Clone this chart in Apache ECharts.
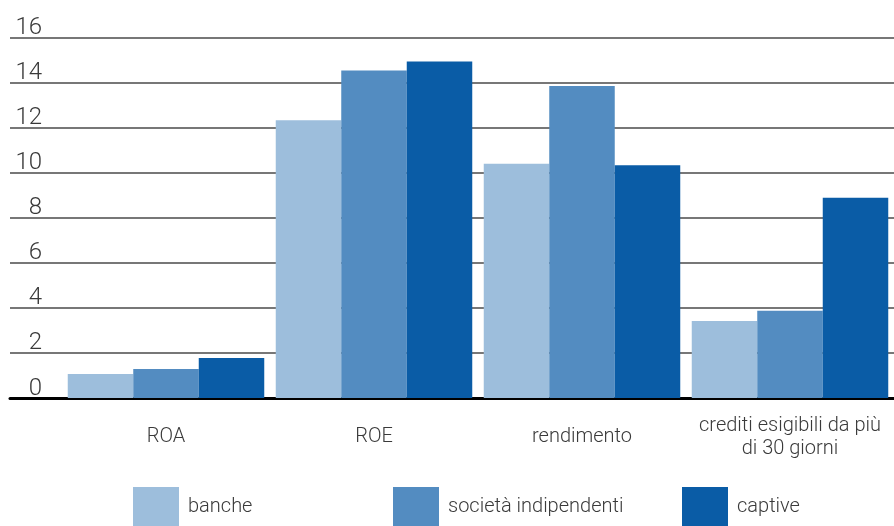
<!DOCTYPE html>
<html>
<head>
<meta charset="utf-8">
<script src="https://cdn.jsdelivr.net/npm/echarts@6/dist/echarts.min.js"></script>
<style>
  html, body { margin: 0; padding: 0; background: #fff; }
  #chart { width: 894px; height: 526px; }
</style>
</head>
<body>
<div id="chart"></div>
<script>
const categories = ['ROA', 'ROE', 'rendimento', 'crediti esigibili da più\ndi 30 giorni'];
const seriesNames = ['banche', 'società indipendenti', 'captive'];
const banche = [1.07, 12.33, 10.4, 3.42];
const societa = [1.29, 14.53, 13.85, 3.87];
const captive = [1.78, 14.93, 10.33, 8.89];
const yTicks = [0, 2, 4, 6, 8, 10, 12, 14, 16];

const colors = ['#9DBEDC', '#538CC1', '#0A5CA6'];
const FONT = 'Roboto, "Liberation Sans", sans-serif';
const TXT = '#3a3a3a';

const chart = echarts.init(document.getElementById('chart'), null, { renderer: 'canvas' });

function legendFor(i, left) {
  return {
    data: [seriesNames[i]],
    left: left, top: 487,
    padding: 0,
    itemWidth: 46, itemHeight: 40,
    icon: 'rect',
    selectedMode: false,
    textStyle: { fontSize: 20, fontFamily: FONT, fontWeight: 300, color: TXT, padding: [0, 0, 0, 4] }
  };
}

const dataArr = [banche, societa, captive];

chart.setOption({
  animation: false,
  backgroundColor: '#fff',
  legend: [legendFor(0, 133), legendFor(1, 393), legendFor(2, 682)],
  grid: [
    { left: 10, right: 0, top: 37.5, bottom: 128 },
    { left: 62, right: 0, top: 37.5, bottom: 128 }
  ],
  xAxis: [
    {
      gridIndex: 0, type: 'category', data: [''],
      axisLine: { show: true, lineStyle: { color: '#000', width: 3 } },
      axisTick: { show: false }, axisLabel: { show: false }, splitLine: { show: false }
    },
    {
      gridIndex: 1, type: 'category', data: categories,
      axisLine: { show: false }, axisTick: { show: false },
      axisLabel: {
        interval: 0, margin: 39, verticalAlign: 'middle', align: 'center',
        fontSize: 20, lineHeight: 23, fontFamily: FONT, fontWeight: 300, color: TXT
      }
    }
  ],
  yAxis: [
    {
      gridIndex: 0, type: 'value', min: 0, max: 16, interval: 2,
      axisLine: { show: false }, axisTick: { show: false },
      axisLabel: {
        inside: true, margin: 32, align: 'right', verticalAlign: 'bottom',
        fontSize: 24, lineHeight: 19, fontFamily: FONT, fontWeight: 300, color: TXT,
        formatter: function (v) { return yTicks.indexOf(v) >= 0 ? String(v) : ''; }
      },
      splitLine: { show: true, lineStyle: { color: '#4a4a4a', width: 1.5 } }
    },
    {
      gridIndex: 1, type: 'value', min: 0, max: 16, interval: 2, show: false,
      splitLine: { show: false }
    }
  ],
  series: seriesNames.map(function (name, i) {
    return {
      name: name, type: 'bar', xAxisIndex: 1, yAxisIndex: 1,
      data: dataArr[i], barWidth: 65.5, barGap: '0%',
      itemStyle: { color: colors[i] },
      emphasis: { disabled: true }
    };
  })
});
</script>
</body>
</html>
